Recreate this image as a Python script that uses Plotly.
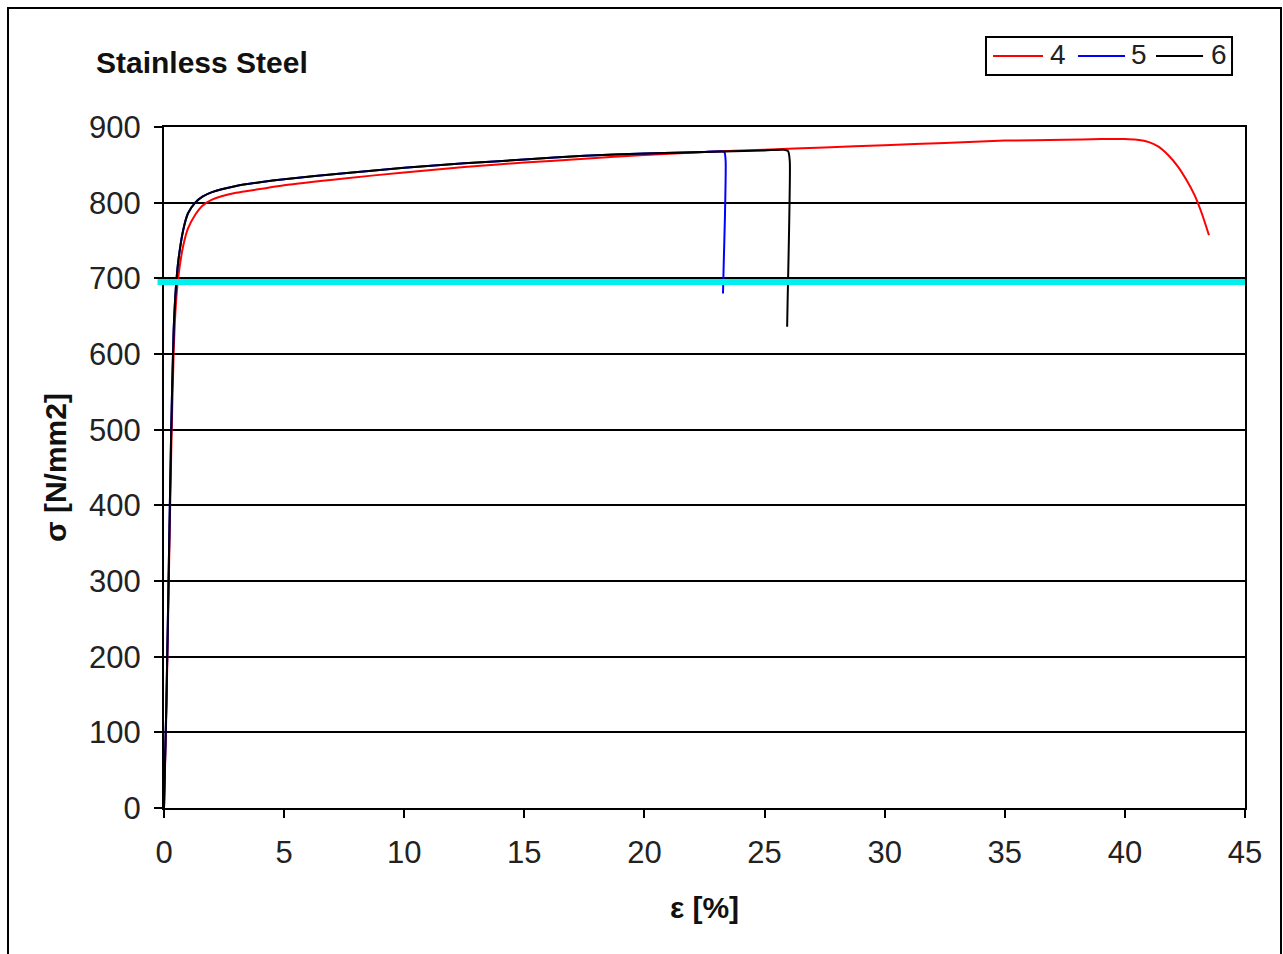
import plotly.graph_objects as go

# Stress-strain curves of three stainless steel specimens
strain_4 = [0, 0.1, 0.2, 0.3, 0.4, 0.5, 0.6, 0.8, 1.0, 1.3, 1.6, 2, 3, 4, 5, 7.5, 10,
            12.5, 15, 17.5, 20, 22.5, 25, 27.5, 30, 32.5, 35, 37.5, 39, 40, 40.5, 41,
            41.4, 41.8, 42.2, 42.6, 42.9, 43.2, 43.5]
stress_4 = [0, 130, 300, 470, 600, 668, 703, 743, 766, 784, 796, 804, 813, 818, 823,
            832, 840, 847, 853, 858, 863, 867, 870, 873, 876, 879, 882, 883, 884, 884,
            883, 880, 874, 863, 848, 828, 810, 786, 757]

strain_5 = [0, 0.1, 0.2, 0.3, 0.4, 0.5, 0.6, 0.8, 1.0, 1.3, 1.6, 2, 3, 4, 5, 7.5, 10,
            12.5, 15, 17.5, 20, 22.5, 23.2, 23.33, 23.38, 23.35, 23.3, 23.27]
stress_5 = [0, 140, 320, 500, 630, 690, 724, 764, 786, 800, 808, 814, 822, 827, 831,
            839, 846, 852, 857, 862, 865, 867, 868, 867, 855, 780, 720, 680]

strain_6 = [0, 0.1, 0.2, 0.3, 0.4, 0.5, 0.6, 0.8, 1.0, 1.3, 1.6, 2, 3, 4, 5, 7.5, 10,
            12.5, 15, 17.5, 20, 22.5, 25, 25.8, 25.98, 26.05, 26.04, 26.0, 25.96, 25.94]
stress_6 = [0, 140, 320, 500, 630, 690, 724, 764, 786, 800, 808, 814, 822, 827, 831,
            839, 846, 852, 857, 862, 865, 867, 869, 870, 868, 855, 800, 730, 670, 636]

series_names = ["4", "5", "6"]
series_colors = ["#ff0000", "#0000ff", "#000000"]

# Horizontal reference stress level
reference_stress = 695

x_ticks = [0, 5, 10, 15, 20, 25, 30, 35, 40, 45]
y_ticks = [0, 100, 200, 300, 400, 500, 600, 700, 800, 900]

FONT = "Liberation Sans, Arial, sans-serif"

fig = go.Figure()
for xs, ys, name, color in zip([strain_4, strain_5, strain_6],
                               [stress_4, stress_5, stress_6],
                               series_names, series_colors):
    fig.add_trace(go.Scatter(x=xs, y=ys, mode="lines", name=name, showlegend=False,
                             line=dict(color=color, width=2, shape="spline",
                                       smoothing=0.6)))

fig.add_shape(type="line", xref="paper", yref="y", x0=-0.006, x1=1,
              y0=reference_stress, y1=reference_stress,
              line=dict(color="#00f0f0", width=6), layer="above")

# Outer chart frame
fig.add_shape(type="rect", xref="paper", yref="paper",
              x0=-0.1443, x1=1.0333, y0=-0.24, y1=1.1747,
              line=dict(color="#000000", width=2), layer="above")

# Boxed key in the upper right corner
fig.add_shape(type="rect", xref="paper", yref="paper",
              x0=0.7604, x1=0.9880, y0=1.0764, y1=1.1322,
              line=dict(color="#000000", width=2), fillcolor="white", layer="above")
key_line_x = [(0.7669, 0.8131), (0.8455, 0.8890), (0.9177, 0.9612)]
key_text_x = [0.8178, 0.8927, 0.9667]
key_y = 1.1043
for (x0, x1), tx, name, color in zip(key_line_x, key_text_x, series_names, series_colors):
    fig.add_shape(type="line", xref="paper", yref="paper", x0=x0, x1=x1,
                  y0=key_y, y1=key_y, line=dict(color=color, width=2), layer="above")
    fig.add_annotation(xref="paper", yref="paper", x=tx, y=key_y + 0.002, text=name,
                       showarrow=False, xanchor="left", yanchor="middle",
                       font=dict(family=FONT, size=28, color="#222222"))

fig.update_layout(
    width=1283, height=954,
    margin=dict(l=164, r=38, t=127, b=146),
    paper_bgcolor="white", plot_bgcolor="white",
    font=dict(family=FONT, color="#222222"),
    title=dict(text="<b>Stainless Steel</b>", xref="container", yref="container",
               x=96 / 1283, xanchor="left", y=1 - 62 / 954, yanchor="middle",
               font=dict(family=FONT, size=30, color="#111111")),
    showlegend=False,
)

fig.update_xaxes(range=[0, 45], tickvals=x_ticks, showgrid=False, zeroline=False,
                 showline=True, linecolor="#000000", linewidth=2, mirror=True,
                 ticks="outside", ticklen=8, tickwidth=2, tickcolor="#000000",
                 tickfont=dict(family=FONT, size=31, color="#222222"),
                 ticklabelstandoff=8,
                 title=dict(text="<b>ε [%]</b>", standoff=28,
                            font=dict(family=FONT, size=30, color="#111111")))

fig.update_yaxes(range=[0, 900], tickvals=y_ticks, showgrid=True,
                 gridcolor="#000000", gridwidth=2, zeroline=False,
                 showline=True, linecolor="#000000", linewidth=2, mirror=True,
                 ticks="outside", ticklen=8, tickwidth=2, tickcolor="#000000",
                 tickfont=dict(family=FONT, size=31, color="#222222"),
                 ticklabelstandoff=7,
                 title=dict(text="<b>σ [N/mm2]</b>", standoff=14,
                            font=dict(family=FONT, size=30, color="#111111")))

fig.write_html("out.html")
